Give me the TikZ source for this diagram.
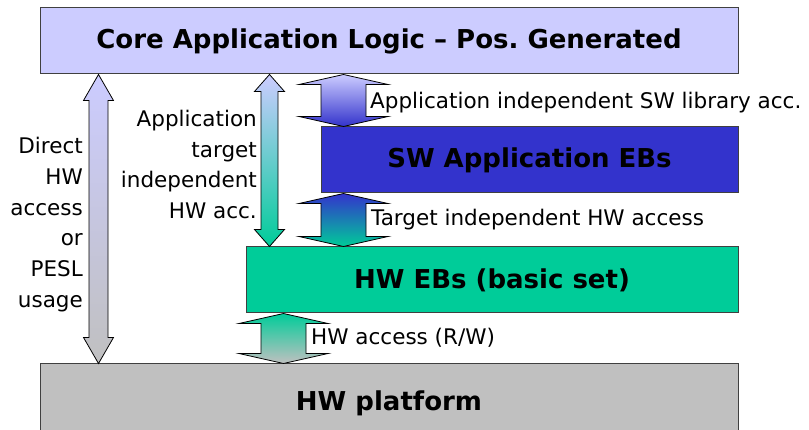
\documentclass[tikz,border=0pt]{standalone}
\usepackage{fontspec}
\setmainfont{DejaVu Sans}
\usepackage{xcolor}
\definecolor{coreback}{HTML}{CCCCFF}
\definecolor{swblue}{HTML}{3333CC}
\definecolor{hwgreen}{HTML}{00CC99}
\definecolor{platgrey}{HTML}{C0C0C0}
\definecolor{edge}{HTML}{404040}
\usetikzlibrary{calc, positioning}
\frenchspacing

% shaded double arrow between two layers: x, upper node, lower node,
% shaft half width, head half width, head length, top colour, bottom colour
\newcommand{\layerarrow}[8]{%
  \coordinate (t) at (#1,0 |- #2.south);
  \coordinate (b) at (#1,0 |- #3.north);
  \shade[draw=black, line width=0.8pt, top color=#7, bottom color=#8]
    (t) -- ($(t)+(#5,#6)$) -- ($(t)+(#4,#6)$) -- ($(b)+(#4,-#6)$)
    -- ($(b)+(#5,-#6)$) -- (b) -- ($(b)+(-#5,-#6)$) -- ($(b)+(-#4,-#6)$)
    -- ($(t)+(-#4,#6)$) -- ($(t)+(-#5,#6)$) -- cycle;
}

\begin{document}
\begin{tikzpicture}[x=1pt, y=-1pt, every node/.style={font=\fontsize{21.5}{30.7}\selectfont}]
\tikzstyle{layer}=[rectangle, draw=edge, line width=1pt, inner sep=0pt,
  font=\fontsize{26}{30}\selectfont\bfseries]
\tikzstyle{acclabel}=[anchor=west, inner sep=1pt]
\tikzstyle{sidelabel}=[anchor=east, align=right, inner sep=1pt]

\useasboundingbox (0,0) rectangle (809,430);

% layers
\node[layer, fill=coreback, minimum width=698pt, minimum height=66pt] (core) at (389,41)
  {Core Application Logic – Pos. Generated};
\node[layer, fill=swblue, minimum width=417pt, minimum height=66pt] (swebs) at (529.5,160)
  {SW Application EBs};
\node[layer, fill=hwgreen, minimum width=492pt, minimum height=66pt] (hwebs) at (492,280)
  {HW EBs (basic set)};
\node[layer, fill=platgrey, minimum width=698pt, minimum height=78pt] (hwplat) at (389,403)
  {HW platform};

% accesses
\layerarrow{343.5}{core}{swebs}{22.5}{44.5}{10}{coreback}{swblue}
\layerarrow{343.5}{swebs}{hwebs}{22.5}{44.5}{10}{swblue}{hwgreen}
\layerarrow{283.5}{hwebs}{hwplat}{22.5}{44.5}{10}{hwgreen}{platgrey}
\layerarrow{98.5}{core}{hwplat}{9.5}{15}{26}{coreback}{platgrey}
\layerarrow{269.5}{core}{hwebs}{8.5}{15}{17}{coreback}{hwgreen}

\node[acclabel] (libacc) at (369,103) {Application independent SW library acc.};
\node[acclabel] (tgtacc) at (370,220) {Target independent HW access};
\node[acclabel] (rwacc) at (310,338) {HW access (R/W)};
\node[sidelabel] (direct) at (84,224.5) {Direct\\HW\\access\\or\\PESL\\usage};
\node[sidelabel] (apptgt) at (258,164.5) {Application\\target\\independent\\HW acc.};
\end{tikzpicture}
\end{document}
